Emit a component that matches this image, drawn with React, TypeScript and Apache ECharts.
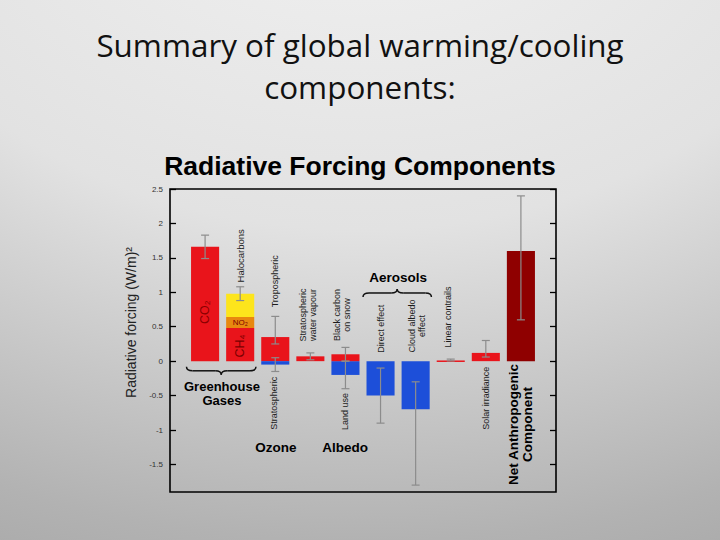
import React, { useEffect, useRef } from 'react';
import * as echarts from 'echarts';

// ---------- data ----------
const segmentNames = [
  'CO2', 'CH4', 'N2O', 'Halocarbons', 'Tropospheric ozone', 'Stratospheric ozone',
  'Stratospheric water vapour', 'Land use', 'Black carbon on snow', 'Direct effect',
  'Cloud albedo effect', 'Linear contrails', 'Solar irradiance', 'Net anthropogenic',
];
const segmentSlot = [1, 2, 2, 2, 3, 3, 4, 5, 5, 6, 7, 8, 9, 10];
const segmentFrom = [0, 0, 0.48, 0.64, 0, 0, 0, 0, 0, 0, 0, 0, 0, 0];
const segmentTo = [1.66, 0.48, 0.64, 0.98, 0.35, -0.05, 0.07, -0.2, 0.1, -0.5, -0.7, 0.01, 0.12, 1.6];
const segmentKind = [
  'warming', 'warming', 'n2o', 'halocarbon', 'warming', 'cooling', 'warming',
  'cooling', 'warming', 'cooling', 'cooling', 'warming', 'warming', 'net',
];

const errorSlot = [1, 2, 3, 3, 4, 5, 5, 6, 7, 8, 9, 10];
const errorLow = [1.49, 0.88, 0.25, -0.15, 0.02, -0.4, 0.0, -0.9, -1.8, 0.003, 0.06, 0.6];
const errorHigh = [1.83, 1.08, 0.65, 0.05, 0.12, 0.0, 0.2, -0.1, -0.3, 0.03, 0.3, 2.4];

const yTickValues = [-1.5, -1, -0.5, 0, 0.5, 1, 1.5, 2, 2.5];
const Y_MIN = -1.9;
const Y_MAX = 2.5;

// ---------- styles ----------
const FONT = '"Liberation Sans", Arial, Helvetica, sans-serif';
const KIND_COLOUR: Record<string, string> = {
  warming: '#e9141b',
  cooling: '#1d4fd9',
  n2o: '#e8880f',
  halocarbon: '#fde51c',
  net: '#8f0000',
};
const BAR_WIDTH = 0.8; // in slot units
const ERR_COLOUR = '#8c8c8c';

type Note = {
  text: string; x: number; y: number; rot?: boolean; size?: number;
  bold?: boolean; color?: string; lh?: number;
};
const notes: Note[] = [
  { text: 'CO₂', x: 1, y: 0.71, rot: true, size: 12.5, color: '#8a0000' },
  { text: 'CH₄', x: 2, y: 0.22, rot: true, size: 12.5, color: '#7a0000' },
  { text: 'NO₂', x: 2, y: 0.56, size: 8, color: '#7a0000' },
  { text: 'Halocarbons', x: 2.02, y: 1.53, rot: true, size: 9.5 },
  { text: 'Tropospheric', x: 3, y: 1.16, rot: true, size: 9 },
  { text: 'Stratospheric\nwater vapour', x: 3.93, y: 0.67, rot: true, size: 9, lh: 10 },
  { text: 'Black carbon\non snow', x: 4.9, y: 0.67, rot: true, size: 9, lh: 10 },
  { text: 'Direct effect', x: 6, y: 0.47, rot: true, size: 9 },
  { text: 'Cloud albedo\neffect', x: 7.03, y: 0.51, rot: true, size: 9, lh: 10 },
  { text: 'Linear contrails', x: 7.92, y: 0.64, rot: true, size: 9 },
  { text: 'Solar irradiance', x: 9, y: -0.54, rot: true, size: 9 },
  { text: 'Stratospheric', x: 2.96, y: -0.61, rot: true, size: 9 },
  { text: 'Land use', x: 4.98, y: -0.73, rot: true, size: 9 },
  { text: 'Net Anthropogenic\nComponent', x: 10, y: -0.92, rot: true, size: 13.5, bold: true, lh: 14 },
  { text: 'Greenhouse\nGases', x: 1.48, y: -0.47, size: 13, bold: true, lh: 14 },
  { text: 'Aerosols', x: 6.5, y: 1.22, size: 13.5, bold: true },
  { text: 'Ozone', x: 3.02, y: -1.25, size: 13.5, bold: true },
  { text: 'Albedo', x: 4.99, y: -1.25, size: 13.5, bold: true },
];

type Brace = { from: number; to: number; y: number; dir: 'up' | 'down' };
const braces: Brace[] = [
  { from: 0.47, to: 2.45, y: -0.14, dir: 'down' },
  { from: 5.5, to: 7.45, y: 0.99, dir: 'up' },
];

function buildOption(): any {
  return {
    animation: false,
    backgroundColor: {
      type: 'radial', x: 0.5, y: -0.3, r: 1.48,
      colorStops: [
        { offset: 0, color: '#f0f0f0' },
        { offset: 0.2, color: '#ececec' },
        { offset: 0.49, color: '#e2e2e2' },
        { offset: 0.88, color: '#b2b2b2' },
        { offset: 1, color: '#a7a7a7' },
      ],
    },
    title: [
      {
        text: 'Summary of global warming/cooling\ncomponents:',
        left: 'center', top: 18,
        textStyle: { fontFamily: '"Open Sans"', fontSize: 31.4, fontWeight: 'normal', color: '#111', lineHeight: 42 },
      },
      {
        text: 'Radiative Forcing Components',
        left: 'center', top: 147,
        textStyle: { fontFamily: FONT, fontSize: 26.5, fontWeight: 'bold', color: '#000' },
      },
    ],
    grid: {
      left: 170, right: 164, top: 189, bottom: 48,
      show: true, borderColor: '#000', borderWidth: 1.6, backgroundColor: 'transparent',
    },
    xAxis: {
      type: 'value', min: 0, max: 11,
      axisLine: { show: false }, axisTick: { show: false }, axisLabel: { show: false }, splitLine: { show: false },
    },
    yAxis: [
      {
        type: 'value', min: Y_MIN, max: Y_MAX, position: 'left',
        name: 'Radiative forcing (W/m)²', nameLocation: 'middle', nameGap: 30, nameRotate: 90,
        nameTextStyle: { fontFamily: FONT, fontSize: 14, color: '#222', padding: [0, 0, 0, 36] },
        axisLine: { show: false }, splitLine: { show: false },
        axisTick: { show: true, inside: true, length: 6, customValues: yTickValues, lineStyle: { color: '#000', width: 1.3 } },
        axisLabel: { customValues: yTickValues, fontFamily: FONT, fontSize: 8, color: '#333', margin: 7 },
      },
      {
        type: 'value', min: Y_MIN, max: Y_MAX, position: 'right',
        axisLine: { show: false }, splitLine: { show: false }, axisLabel: { show: false },
        axisTick: { show: true, inside: true, length: 6, customValues: yTickValues, lineStyle: { color: '#000', width: 1.3 } },
      },
    ],
    series: [
      {
        type: 'custom', name: 'Forcing', yAxisIndex: 0,
        encode: { x: 0, y: [1, 2] },
        data: segmentSlot.map((s, i) => [s, segmentFrom[i], segmentTo[i]]),
        renderItem: (params: any, api: any) => {
          const x = api.value(0);
          const p0 = api.coord([x, api.value(1)]);
          const p1 = api.coord([x, api.value(2)]);
          const w = api.size([BAR_WIDTH, 0])[0];
          const top = Math.min(p0[1], p1[1]);
          const h = Math.max(Math.abs(p1[1] - p0[1]), 1.5);
          return {
            type: 'rect',
            shape: { x: p0[0] - w / 2, y: top, width: w, height: h },
            style: { fill: KIND_COLOUR[segmentKind[params.dataIndex]] },
          };
        },
      },
      {
        type: 'custom', name: 'Uncertainty', yAxisIndex: 0,
        encode: { x: 0, y: [1, 2] },
        data: errorSlot.map((s, i) => [s, errorLow[i], errorHigh[i]]),
        renderItem: (_params: any, api: any) => {
          const x = api.value(0);
          const lo = api.coord([x, api.value(1)]);
          const hi = api.coord([x, api.value(2)]);
          const cap = 4;
          const st = { stroke: ERR_COLOUR, lineWidth: 1.2 };
          return {
            type: 'group',
            children: [
              { type: 'line', shape: { x1: lo[0], y1: lo[1], x2: hi[0], y2: hi[1] }, style: st },
              { type: 'line', shape: { x1: lo[0] - cap, y1: lo[1], x2: lo[0] + cap, y2: lo[1] }, style: st },
              { type: 'line', shape: { x1: hi[0] - cap, y1: hi[1], x2: hi[0] + cap, y2: hi[1] }, style: st },
            ],
          };
        },
      },
      {
        type: 'custom', name: 'Braces', yAxisIndex: 0, silent: true,
        encode: { x: [0, 1], y: 2 },
        data: braces.map((b) => [b.from, b.to, b.y]),
        renderItem: (params: any, api: any) => {
          const b = braces[params.dataIndex];
          const p1 = api.coord([api.value(0), api.value(2)]);
          const p2 = api.coord([api.value(1), api.value(2)]);
          const x1 = p1[0], x2 = p2[0], yb = p1[1];
          const xm = (x1 + x2) / 2;
          const s = b.dir === 'down' ? 1 : -1;
          const h = 4, r = 6;
          const st = { stroke: '#111', lineWidth: 1.5, fill: 'none' };
          return {
            type: 'group',
            children: [
              { type: 'bezierCurve', shape: { x1: x1, y1: yb - s * h, cpx1: x1, cpy1: yb, x2: x1 + r, y2: yb }, style: st },
              { type: 'line', shape: { x1: x1 + r, y1: yb, x2: xm - r, y2: yb }, style: st },
              { type: 'bezierCurve', shape: { x1: xm - r, y1: yb, cpx1: xm, cpy1: yb, x2: xm, y2: yb + s * h }, style: st },
              { type: 'bezierCurve', shape: { x1: xm, y1: yb + s * h, cpx1: xm, cpy1: yb, x2: xm + r, y2: yb }, style: st },
              { type: 'line', shape: { x1: xm + r, y1: yb, x2: x2 - r, y2: yb }, style: st },
              { type: 'bezierCurve', shape: { x1: x2 - r, y1: yb, cpx1: x2, cpy1: yb, x2: x2, y2: yb - s * h }, style: st },
            ],
          };
        },
      },
      {
        type: 'custom', name: 'Labels', yAxisIndex: 0, silent: true,
        encode: { x: 0, y: 1 },
        data: notes.map((n) => [n.x, n.y]),
        renderItem: (params: any, api: any) => {
          const n = notes[params.dataIndex];
          const p = api.coord([api.value(0), api.value(1)]);
          const size = n.size ?? 9;
          return {
            type: 'text',
            x: p[0], y: p[1],
            rotation: n.rot ? Math.PI / 2 : 0,
            style: {
              text: n.text,
              fill: n.color ?? (n.bold ? '#000' : '#1c1c1c'),
              fontFamily: FONT,
              fontSize: size,
              fontWeight: n.bold ? 'bold' : 'normal',
              lineHeight: n.lh ?? size + 1,
              align: 'center', verticalAlign: 'middle',
              textAlign: 'center', textVerticalAlign: 'middle',
            },
          };
        },
      },
    ],
  };
}

export default function App() {
  const ref = useRef<HTMLDivElement>(null);
  useEffect(() => {
    document.body.style.margin = '0';
    const chart = echarts.init(ref.current!, null, { renderer: 'svg' });
    chart.setOption(buildOption());
    return () => chart.dispose();
  }, []);
  return <div ref={ref} style={{ width: 720, height: 540 }} />;
}
